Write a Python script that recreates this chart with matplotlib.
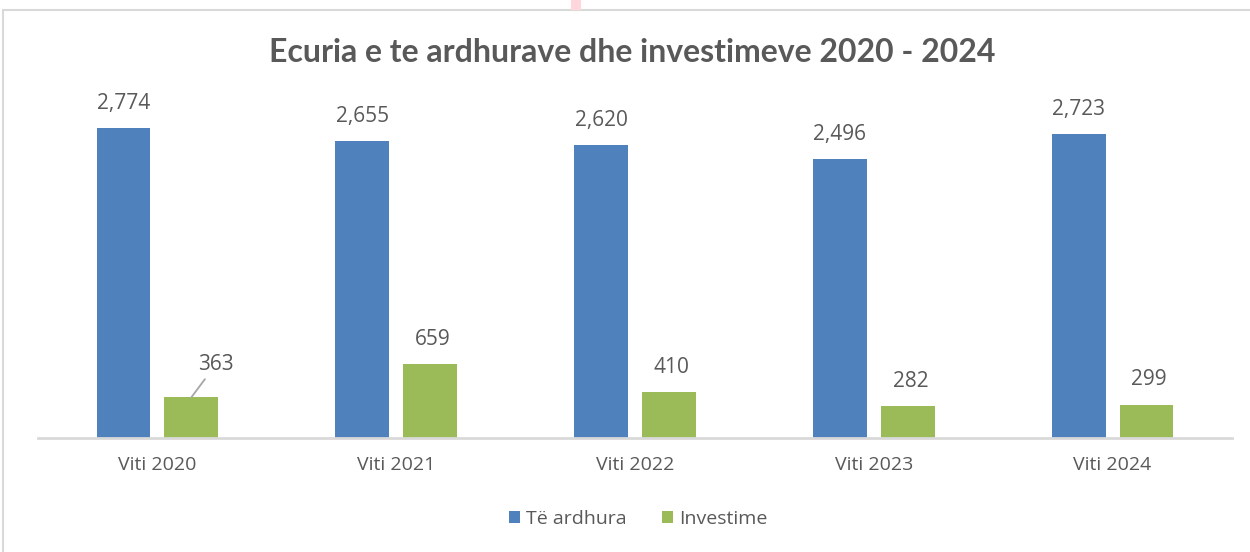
import matplotlib
matplotlib.use("Agg")
import matplotlib.pyplot as plt
from matplotlib.patches import Rectangle
import numpy as np

categories = ["Viti 2020", "Viti 2021", "Viti 2022", "Viti 2023", "Viti 2024"]
ardhura = [2774, 2655, 2620, 2496, 2723]
investime = [363, 659, 410, 282, 299]
series_names = ["Të ardhura", "Investime"]
title = "Ecuria e te ardhurave dhe investimeve 2020 - 2024"

blue = "#4F81BD"
green = "#9BBB59"
txt = "#595959"
font = ["Open Sans", "DejaVu Sans"]

fig = plt.figure(figsize=(12.5, 5.52), dpi=100)
# outer chart border
fig.patches.append(Rectangle((3/1250, -0.01), 1.1, 1 - 10/552 + 0.01, transform=fig.transFigure,
                             fill=False, edgecolor="#D9D9D9", linewidth=1.5))
fig.patches.append(Rectangle((571/1250, 1 - 10/552), 10/1250, 10/552, transform=fig.transFigure,
                             facecolor="#FFD6DC", edgecolor="none"))

ax = fig.add_axes([38/1250, 1 - 438/552, (1232-38)/1250, (438-102.6)/552])
x = np.arange(len(categories))
w = 0.226
off = 0.142
b1 = ax.bar(x - off, ardhura, w, color=blue, label=series_names[0])
b2 = ax.bar(x + off, investime, w, color=green, label=series_names[1])
ax.set_xlim(-0.5, len(categories) - 0.5)
ax.set_ylim(0, 3000)
for s in ["top", "right", "left"]:
    ax.spines[s].set_visible(False)
ax.spines["bottom"].set_color("#D9D9D9")
ax.spines["bottom"].set_linewidth(2)
ax.set_yticks([])
ax.set_xticks(x)
ax.set_xticklabels(categories, fontsize=14, color=txt, family=font)
ax.tick_params(axis="x", length=0, pad=13)

lab_fs = 15
for xi, v in zip(x, ardhura):
    ax.annotate(f"{v:,}", (xi - off, v), xytext=(0, 17.5), textcoords="offset points",
                ha="center", va="center", fontsize=lab_fs, color=txt, family=font)
for i, (xi, v) in enumerate(zip(x, investime)):
    if i == 0:
        ax.annotate(f"{v:,}", (xi + off, v), xytext=(17.5, 23.5), textcoords="offset points",
                    ha="center", va="center", fontsize=lab_fs, color=txt, family=font,
                    arrowprops=dict(arrowstyle="-", color="#A6A6A6", lw=1.3,
                                    shrinkA=1, shrinkB=0))
    else:
        ax.annotate(f"{v:,}", (xi + off, v), xytext=(2, 18), textcoords="offset points",
                    ha="center", va="center", fontsize=lab_fs, color=txt, family=font)

fig.text(632/1250, 1 - 52/552, title, ha="center", va="center", fontsize=23,
         fontweight="bold", color=txt, family=["Lato", "DejaVu Sans"])

leg = fig.legend(handles=[b1, b2], labels=series_names, loc="center",
                 bbox_to_anchor=(638/1250, 1 - 519/552), ncol=2, frameon=False,
                 prop={"family": font, "size": 14}, handlelength=0.6, handleheight=0.6,
                 handletextpad=0.3, columnspacing=1.8)
for t in leg.get_texts():
    t.set_color(txt)

fig.savefig("out.png", dpi=100)
